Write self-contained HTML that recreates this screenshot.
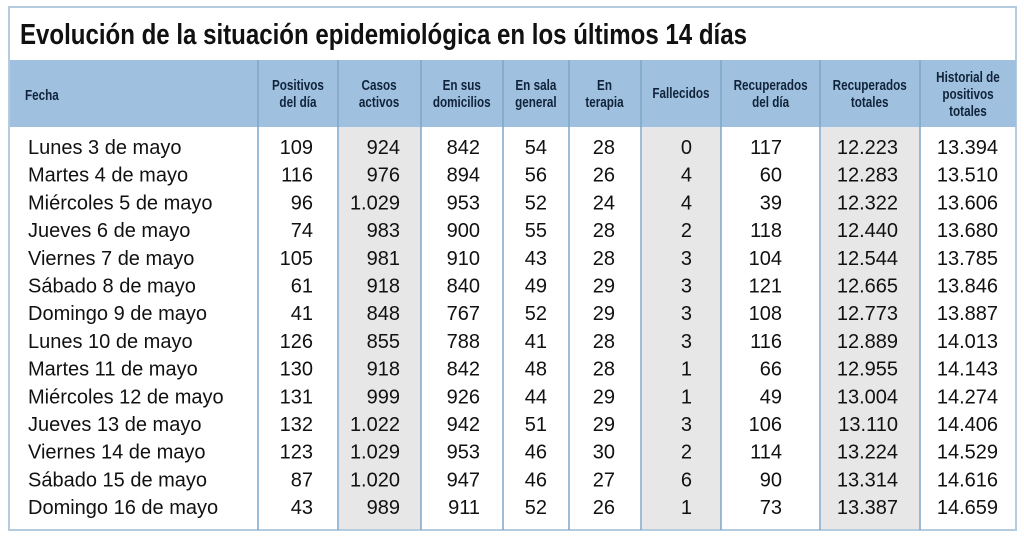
<!DOCTYPE html>
<html><head><meta charset="utf-8"><style>html,body{margin:0;padding:0;background:#fff}svg{display:block}</style></head>
<body>
<svg width="1024" height="539" viewBox="0 0 1024 539" xmlns="http://www.w3.org/2000/svg" font-family="'Liberation Sans', Arial, sans-serif">
<rect x="0" y="0" width="1024" height="539" fill="#fff"/>
<rect x="9" y="7" width="1007" height="523" fill="#fff" stroke="#b5cbe0" stroke-width="2"/>
<rect x="10" y="60" width="1006" height="67" fill="#9fc0de"/>
<g fill="#e7e7e7">
<rect x="339" y="127" width="82" height="402"/>
<rect x="642" y="127" width="79" height="402"/>
<rect x="821" y="127" width="99" height="402"/>
</g>
<g stroke="#7ea6c9" stroke-width="1.5">
<line x1="258" y1="60" x2="258" y2="530"/><line x1="338" y1="60" x2="338" y2="530"/>
<line x1="421" y1="60" x2="421" y2="530"/><line x1="503" y1="60" x2="503" y2="530"/>
<line x1="569" y1="60" x2="569" y2="530"/><line x1="641" y1="60" x2="641" y2="530"/>
<line x1="721" y1="60" x2="721" y2="530"/><line x1="820" y1="60" x2="820" y2="530"/>
<line x1="920" y1="60" x2="920" y2="530"/>
</g>
<g transform="scale(0.83,1)"><text x="24.1" y="44" font-size="29" font-weight="bold" fill="#111">Evolución de la situación epidemiológica en los últimos 14 días</text></g>
<g transform="scale(0.78,1)" font-size="15" font-weight="bold" fill="#10233a" text-anchor="middle">
<text x="32" y="100" text-anchor="start">Fecha</text>
<text x="382" y="90">Positivos</text><text x="382" y="107">del día</text>
<text x="486" y="90">Casos</text><text x="486" y="107">activos</text>
<text x="592" y="90">En sus</text><text x="592" y="107">domicilios</text>
<text x="687" y="90">En sala</text><text x="687" y="107">general</text>
<text x="775" y="90">En</text><text x="775" y="107">terapia</text>
<text x="873" y="98">Fallecidos</text>
<text x="988" y="90">Recuperados</text><text x="988" y="107">del día</text>
<text x="1115" y="90">Recuperados</text><text x="1115" y="107">totales</text>
<text x="1241" y="82">Historial de</text><text x="1241" y="99">positivos</text><text x="1241" y="116">totales</text>
</g>
<g font-size="20" fill="#111">
<g>
<text x="28" y="154">Lunes 3 de mayo</text><text x="28" y="181.7">Martes 4 de mayo</text><text x="28" y="209.4">Miércoles 5 de mayo</text><text x="28" y="237.1">Jueves 6 de mayo</text><text x="28" y="264.8">Viernes 7 de mayo</text><text x="28" y="292.5">Sábado 8 de mayo</text><text x="28" y="320.2">Domingo 9 de mayo</text><text x="28" y="347.9">Lunes 10 de mayo</text><text x="28" y="375.6">Martes 11 de mayo</text><text x="28" y="403.3">Miércoles 12 de mayo</text><text x="28" y="431">Jueves 13 de mayo</text><text x="28" y="458.7">Viernes 14 de mayo</text><text x="28" y="486.4">Sábado 15 de mayo</text><text x="28" y="514.1">Domingo 16 de mayo</text>
</g>
<g text-anchor="end">
<text x="313" y="154">109</text><text x="313" y="181.7">116</text><text x="313" y="209.4">96</text><text x="313" y="237.1">74</text><text x="313" y="264.8">105</text><text x="313" y="292.5">61</text><text x="313" y="320.2">41</text><text x="313" y="347.9">126</text><text x="313" y="375.6">130</text><text x="313" y="403.3">131</text><text x="313" y="431">132</text><text x="313" y="458.7">123</text><text x="313" y="486.4">87</text><text x="313" y="514.1">43</text>
<text x="400" y="154">924</text><text x="400" y="181.7">976</text><text x="400" y="209.4">1.029</text><text x="400" y="237.1">983</text><text x="400" y="264.8">981</text><text x="400" y="292.5">918</text><text x="400" y="320.2">848</text><text x="400" y="347.9">855</text><text x="400" y="375.6">918</text><text x="400" y="403.3">999</text><text x="400" y="431">1.022</text><text x="400" y="458.7">1.029</text><text x="400" y="486.4">1.020</text><text x="400" y="514.1">989</text>
<text x="480" y="154">842</text><text x="480" y="181.7">894</text><text x="480" y="209.4">953</text><text x="480" y="237.1">900</text><text x="480" y="264.8">910</text><text x="480" y="292.5">840</text><text x="480" y="320.2">767</text><text x="480" y="347.9">788</text><text x="480" y="375.6">842</text><text x="480" y="403.3">926</text><text x="480" y="431">942</text><text x="480" y="458.7">953</text><text x="480" y="486.4">947</text><text x="480" y="514.1">911</text>
<text x="547" y="154">54</text><text x="547" y="181.7">56</text><text x="547" y="209.4">52</text><text x="547" y="237.1">55</text><text x="547" y="264.8">43</text><text x="547" y="292.5">49</text><text x="547" y="320.2">52</text><text x="547" y="347.9">41</text><text x="547" y="375.6">48</text><text x="547" y="403.3">44</text><text x="547" y="431">51</text><text x="547" y="458.7">46</text><text x="547" y="486.4">46</text><text x="547" y="514.1">52</text>
<text x="615" y="154">28</text><text x="615" y="181.7">26</text><text x="615" y="209.4">24</text><text x="615" y="237.1">28</text><text x="615" y="264.8">28</text><text x="615" y="292.5">29</text><text x="615" y="320.2">29</text><text x="615" y="347.9">28</text><text x="615" y="375.6">28</text><text x="615" y="403.3">29</text><text x="615" y="431">29</text><text x="615" y="458.7">30</text><text x="615" y="486.4">27</text><text x="615" y="514.1">26</text>
<text x="692" y="154">0</text><text x="692" y="181.7">4</text><text x="692" y="209.4">4</text><text x="692" y="237.1">2</text><text x="692" y="264.8">3</text><text x="692" y="292.5">3</text><text x="692" y="320.2">3</text><text x="692" y="347.9">3</text><text x="692" y="375.6">1</text><text x="692" y="403.3">1</text><text x="692" y="431">3</text><text x="692" y="458.7">2</text><text x="692" y="486.4">6</text><text x="692" y="514.1">1</text>
<text x="782" y="154">117</text><text x="782" y="181.7">60</text><text x="782" y="209.4">39</text><text x="782" y="237.1">118</text><text x="782" y="264.8">104</text><text x="782" y="292.5">121</text><text x="782" y="320.2">108</text><text x="782" y="347.9">116</text><text x="782" y="375.6">66</text><text x="782" y="403.3">49</text><text x="782" y="431">106</text><text x="782" y="458.7">114</text><text x="782" y="486.4">90</text><text x="782" y="514.1">73</text>
<text x="898" y="154">12.223</text><text x="898" y="181.7">12.283</text><text x="898" y="209.4">12.322</text><text x="898" y="237.1">12.440</text><text x="898" y="264.8">12.544</text><text x="898" y="292.5">12.665</text><text x="898" y="320.2">12.773</text><text x="898" y="347.9">12.889</text><text x="898" y="375.6">12.955</text><text x="898" y="403.3">13.004</text><text x="898" y="431">13.110</text><text x="898" y="458.7">13.224</text><text x="898" y="486.4">13.314</text><text x="898" y="514.1">13.387</text>
<text x="998" y="154">13.394</text><text x="998" y="181.7">13.510</text><text x="998" y="209.4">13.606</text><text x="998" y="237.1">13.680</text><text x="998" y="264.8">13.785</text><text x="998" y="292.5">13.846</text><text x="998" y="320.2">13.887</text><text x="998" y="347.9">14.013</text><text x="998" y="375.6">14.143</text><text x="998" y="403.3">14.274</text><text x="998" y="431">14.406</text><text x="998" y="458.7">14.529</text><text x="998" y="486.4">14.616</text><text x="998" y="514.1">14.659</text>
</g>
</g>
</svg>
</body></html>
